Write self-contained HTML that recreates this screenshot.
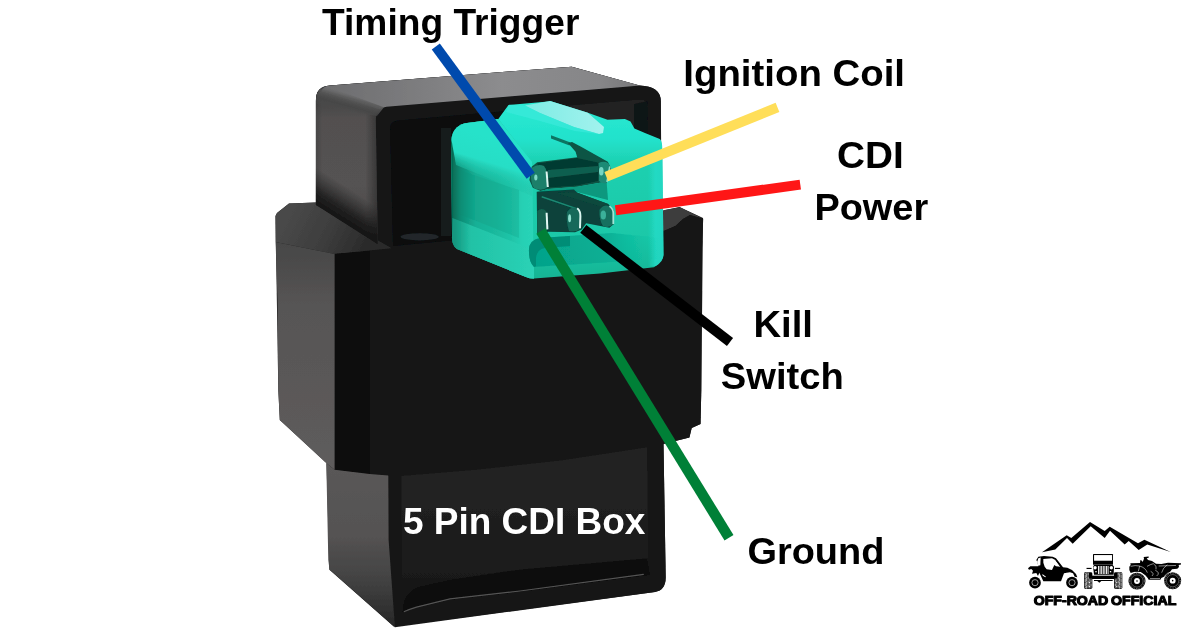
<!DOCTYPE html>
<html>
<head>
<meta charset="utf-8">
<title>5 Pin CDI Box</title>
<style>
html,body{margin:0;padding:0;background:#ffffff;}
body{width:1200px;height:630px;overflow:hidden;font-family:"Liberation Sans",sans-serif;}
svg{display:block;will-change:transform;}
text{font-family:"Liberation Sans",sans-serif;font-weight:bold;}
</style>
</head>
<body>
<svg width="1200" height="630" viewBox="0 0 1200 630">
<defs>
  <linearGradient id="gTop" gradientUnits="userSpaceOnUse" x1="320" y1="0" x2="650" y2="0">
    <stop offset="0" stop-color="#6c6c6e"/>
    <stop offset="0.25" stop-color="#7a7a7c"/>
    <stop offset="0.55" stop-color="#8c8c8e"/>
    <stop offset="0.85" stop-color="#868688"/>
    <stop offset="1" stop-color="#747476"/>
  </linearGradient>
  <linearGradient id="gRidge" gradientUnits="userSpaceOnUse" x1="350" y1="90" x2="344" y2="112">
    <stop offset="0" stop-color="#808082" stop-opacity="0"/>
    <stop offset="0.35" stop-color="#5a5a5a" stop-opacity="0.9"/>
    <stop offset="0.7" stop-color="#464646" stop-opacity="0.9"/>
    <stop offset="1" stop-color="#505050" stop-opacity="0"/>
  </linearGradient>
  <linearGradient id="gLeftFace" gradientUnits="userSpaceOnUse" x1="0" y1="95" x2="0" y2="245">
    <stop offset="0" stop-color="#424242"/>
    <stop offset="0.15" stop-color="#525050"/>
    <stop offset="0.6" stop-color="#545252"/>
    <stop offset="1" stop-color="#4a4848"/>
  </linearGradient>
  <linearGradient id="gLeftShadow" gradientUnits="userSpaceOnUse" x1="347" y1="224.7" x2="364" y2="198">
    <stop offset="0" stop-color="#121212" stop-opacity="0.97"/>
    <stop offset="0.35" stop-color="#161616" stop-opacity="0.8"/>
    <stop offset="1" stop-color="#202020" stop-opacity="0"/>
  </linearGradient>
  <linearGradient id="gLeftFaceH" gradientUnits="userSpaceOnUse" x1="316" y1="0" x2="378" y2="0">
    <stop offset="0" stop-color="#000" stop-opacity="0.12"/>
    <stop offset="0.1" stop-color="#000" stop-opacity="0"/>
    <stop offset="0.8" stop-color="#000" stop-opacity="0"/>
    <stop offset="1" stop-color="#000" stop-opacity="0.35"/>
  </linearGradient>
  <linearGradient id="gBandTop" gradientUnits="userSpaceOnUse" x1="290" y1="215" x2="360" y2="250">
    <stop offset="0" stop-color="#484848"/>
    <stop offset="0.5" stop-color="#3e3e3e"/>
    <stop offset="1" stop-color="#2c2c2c"/>
  </linearGradient>
  <linearGradient id="gBandSide" gradientUnits="userSpaceOnUse" x1="0" y1="240" x2="0" y2="470">
    <stop offset="0" stop-color="#464646"/>
    <stop offset="0.3" stop-color="#575555"/>
    <stop offset="1" stop-color="#5e5c5c"/>
  </linearGradient>
  <linearGradient id="gLowSide" gradientUnits="userSpaceOnUse" x1="0" y1="465" x2="0" y2="625">
    <stop offset="0" stop-color="#5a5858"/>
    <stop offset="0.45" stop-color="#545252"/>
    <stop offset="0.72" stop-color="#424242"/>
    <stop offset="1" stop-color="#282828"/>
  </linearGradient>
  <linearGradient id="gPane" gradientUnits="userSpaceOnUse" x1="0" y1="460" x2="0" y2="620">
    <stop offset="0" stop-color="#242424"/>
    <stop offset="0.6" stop-color="#1c1c1c"/>
    <stop offset="1" stop-color="#141414"/>
  </linearGradient>
  <filter id="fSoft" x="-2%" y="-2%" width="104%" height="104%"><feGaussianBlur stdDeviation="0.55"/></filter>
</defs>
<rect width="1200" height="630" fill="#ffffff"/>
<g id="photo" filter="url(#fSoft)">
<!-- ===== BASE SILHOUETTES (avoid seams) ===== -->
<g id="base">
  <path d="M275.5,216 L277,213 L289,203.5 L316,202.5 L316,101 Q315.5,86.2 330,85.4 L571.7,66.7 L639.4,85.4 Q660.8,86 660.8,101.3 L661,211 L679.4,207 L703,218 L701.3,390 L700.5,424 L691.7,428 L689.4,437.6 L663.5,444 L665.7,577.6 Q665.5,590.5 655,592 L393.7,626.5 L329.4,569.7 L326.5,463 L279.8,420 L278.3,390 Z" fill="#161616"/>
</g>
<!-- ===== BAND TOP FACE (behind housing) ===== -->
<g id="bandtop">
  <path d="M275.5,216 L277,213 L289,203.5 L316,202.5 L393,248 L334.6,254 L275.6,242 Z" fill="url(#gBandTop)"/>
  <path d="M661,212 L664.3,210 L680,207.2 L703.2,218.8 L690,215 L683,219 L675.4,226 L664.3,230.7 L661,231 Z" fill="#3e3e3e"/>
</g>
<!-- ===== UPPER HOUSING ===== -->
<g id="upper">
  <!-- silhouette / frame -->
  <path d="M315.9,101 Q315.5,86.2 330,85.4 L571.7,66.7 L639.4,85.4 Q660.8,86 660.8,101.3 L662,258 L393,258 L393,249 L315.9,205 Z" fill="#141516"/>
  <!-- left side face -->
  <path d="M315.9,101 Q315.6,93 321,91.5 L379.5,109.3 Q376,113 375.8,120 L377.8,244.4 L315.9,205 Z" fill="url(#gLeftFace)"/>
  <path d="M315.9,101 Q315.6,93 321,91.5 L379.5,109.3 Q376,113 375.8,120 L377.8,244.4 L315.9,205 Z" fill="url(#gLeftFaceH)"/>
  <path d="M315.9,101 Q315.6,93 321,91.5 L379.5,109.3 Q376,113 375.8,120 L377.8,244.4 L315.9,205 Z" fill="url(#gLeftShadow)"/>
  <!-- top face -->
  <path d="M321,91.5 Q323,86 330,85.4 L571.7,66.7 L640,85.6 L620,87.3 L386.5,106.8 Q382,107.3 379.5,109.3 Z" fill="url(#gTop)"/>
  <!-- rounded ridge between top and left face -->
  <path d="M316,99 Q316,88 327,86 L384,107.3 L377,116 L316,108 Z" fill="url(#gRidge)"/>
  <!-- opening interior -->
  <path d="M390,128 Q390,121.5 398,120.5 L640,99.5 Q647.5,99.5 647.8,106 L648.5,222 L393,246 Z" fill="#070d0f"/>
  <!-- interior top wall, lighter on right -->
  <path d="M540,108 L640,99.5 Q647.5,99.5 647.8,106 L648,150 L600,126 L540,116 Z" fill="#242424"/>
  <path d="M634,104 L647.8,101 L648.3,160 L634,140 Z" fill="#111213"/>
  <!-- interior lighter vertical band & floor reflection -->
  <rect x="441" y="128" width="10" height="108" fill="#171c1e"/>
  <ellipse cx="419.6" cy="236.8" rx="19" ry="3.6" fill="#23282a"/>
</g>
<!-- ===== RUBBER BAND ===== -->
<g id="band">
  <!-- front face -->
  <path d="M334.6,254 L393,249.5 L455,250 L662,250 L662,231 L664.3,230.7 L675.4,226 L683,219 L690,215 L703.2,218.8 L701.6,258 L701.3,390 L700.5,424 L691.7,428 L689.4,437.6 L663,444 L560,459.7 L475,469 L388,475.5 L369.5,474 L334.6,469.7 Z" fill="#151515"/>
  <path d="M334.6,254 L370,251.3 L370,474 L334.6,469.7 Z" fill="#0a0a0a"/>
  <!-- side face -->
  <path d="M275.6,242 L334.6,254 L334.6,469.7 L325,462 L279.8,420 L278.3,390 L277.5,300 Z" fill="url(#gBandSide)"/>
</g>
<!-- ===== LOWER HOUSING ===== -->
<g id="lower">
  <path d="M388,475.5 L475,469 L560,459.7 L663,444 L663.5,444 L665.7,577.6 Q665.5,590.5 655,592 L394.9,627.2 L388.6,600 Z" fill="#171717"/>
  <path d="M401.5,476 L475,470 L560,460.7 L647,447.5 L648,558 L520,569.7 L419,586.8 Q409,593 404,606 L402,606 Z" fill="url(#gPane)"/>
  <path d="M326.3,463 L334.6,469.7 L369.5,474 L388.3,475.5 L388.6,540 L394.9,627.2 L329.5,569.5 L328.3,560 Z" fill="url(#gLowSide)"/>
  <!-- glossy ridge -->
  <path d="M402.5,612.2 Q403,598 408.9,593.2 Q413,588.5 419,586.8 L450,579.8 L520,569.7 L647,558.6 L650,575 L520,592 L450,600 L416.5,607.5 Z" fill="#0d0d0d"/>
  <path d="M403.8,611.8 Q410,609 416.5,607.1 L450,598.9 L520,591 L643.8,574.4" fill="none" stroke="#555555" stroke-width="1.1"/>
</g>
<!-- ===== CONNECTOR ===== -->
<g id="conn">
  <defs>
    <linearGradient id="gSide" gradientUnits="userSpaceOnUse" x1="451" y1="0" x2="534" y2="0">
      <stop offset="0" stop-color="#056650"/>
      <stop offset="0.12" stop-color="#0c8e76"/>
      <stop offset="0.3" stop-color="#16b096"/>
      <stop offset="0.55" stop-color="#1aba9e"/>
      <stop offset="0.75" stop-color="#20c6aa"/>
      <stop offset="0.86" stop-color="#26d0b4"/>
      <stop offset="1" stop-color="#2ad4b8"/>
    </linearGradient>
    <linearGradient id="gSideTop" gradientUnits="userSpaceOnUse" x1="492" y1="138" x2="478" y2="184">
      <stop offset="0" stop-color="#26e2ca"/>
      <stop offset="0.5" stop-color="#28dec6"/>
      <stop offset="1" stop-color="#1ab498" stop-opacity="0"/>
    </linearGradient>
    <linearGradient id="gFront" gradientUnits="userSpaceOnUse" x1="0" y1="100" x2="0" y2="278">
      <stop offset="0" stop-color="#2aeAd2"/>
      <stop offset="0.22" stop-color="#22e2cc"/>
      <stop offset="0.36" stop-color="#1ed0b0"/>
      <stop offset="0.78" stop-color="#1ac8a8"/>
      <stop offset="1" stop-color="#14b494"/>
    </linearGradient>
    <linearGradient id="gTab" gradientUnits="userSpaceOnUse" x1="525" y1="0" x2="604" y2="0">
      <stop offset="0" stop-color="#7cecE4"/>
      <stop offset="0.4" stop-color="#8ceee8"/>
      <stop offset="1" stop-color="#a2f2ee"/>
    </linearGradient>
    <linearGradient id="gBotBand" gradientUnits="userSpaceOnUse" x1="455" y1="0" x2="534" y2="0">
      <stop offset="0" stop-color="#149880"/>
      <stop offset="0.2" stop-color="#22c2a6"/>
      <stop offset="1" stop-color="#2ad2b6"/>
    </linearGradient>
    <linearGradient id="gRecess" gradientUnits="userSpaceOnUse" x1="529" y1="0" x2="660" y2="0">
      <stop offset="0" stop-color="#04a088" stop-opacity="0.95"/>
      <stop offset="0.6" stop-color="#06ac92" stop-opacity="0.85"/>
      <stop offset="1" stop-color="#05c0a4" stop-opacity="0"/>
    </linearGradient>
    <linearGradient id="gRightStrip" gradientUnits="userSpaceOnUse" x1="648" y1="0" x2="663" y2="0">
      <stop offset="0" stop-color="#24dcc8" stop-opacity="0"/>
      <stop offset="0.5" stop-color="#24dcc8" stop-opacity="0.8"/>
      <stop offset="1" stop-color="#22d8c4" stop-opacity="0.9"/>
    </linearGradient>
  </defs>
  <!-- body -->
  <path d="M451,143 Q451.5,127 465,123.3 L498.3,118.9 L508.5,105 L551,101.3 L587.8,112.8 L607.5,119.8 L624.9,119 L630.5,121.4 L634.4,128.6 L645.6,133.3 L659.8,138.9 Q662.2,141 662.2,147 L663.5,255 Q663.2,261.5 654,267.3 L600,273.6 L534,278.5 Q530,278.6 526,277 L457,249 Q451.5,245.5 452,236 Z" fill="url(#gFront)"/>
  <!-- left side face -->
  <path d="M451,143 Q451.5,127 465,123.3 L498.3,118.9 L532,162 L534,278.5 Q530,278.6 526,277 L457,249 Q451.5,245.5 452,236 Z" fill="url(#gSide)"/>
  <!-- bright rounded top edge of side face -->
  <path d="M451.5,140 Q452,127 465,123.3 L498.3,118.9 L532,162 L532,196 L456,165 Z" fill="url(#gSideTop)"/>
  <!-- side panel darker -->
  <path d="M459,170 L519,190 L519,238 L459,214 Z" fill="#048a74" opacity="0.2"/>
  <!-- bottom-left rounded band lighter -->
  <path d="M452.5,218 L526,247 L534,250 L534,278.5 Q530,278.6 526,277 L457,249 Q451.5,245.5 452,236 Z" fill="url(#gBotBand)"/>
  <!-- right strip highlight -->
  <path d="M648,150 L662.3,150 L663.5,255 Q663.2,261.5 656,266 L648,267 Z" fill="url(#gRightStrip)"/>
  <!-- tab light top face -->
  <path d="M525,105.5 L550,101 L587.8,112.8 L604,127 L603,133 L599,134 L574,127 L540,113 Z" fill="url(#gTab)"/>
  <path d="M509,104.8 L525,105.5 L540,113 L574,127 L599,134 L575,131 L540,121 L506,112 Z" fill="#3aeadc" opacity="0.7"/>
  <!-- slit -->
  <path d="M551,135.3 L570.5,142.6 L569.5,145.6 L551,138.5 Z" fill="#0c7462"/>
  <!-- recess -->
  <path d="M529,252 Q528,240 540,238 L612,233 L660,238 L660,259 L534,267 Q529,262 529,252 Z" fill="url(#gRecess)"/>
  <path d="M529,252 Q528,240 540,238 L570,236 L570,246 L545,248 Q537,249 536,258 L536,266 L534,267 Q529,262 529,252 Z" fill="#038670" opacity="0.8"/>

  <!-- upper cavity -->
  <path d="M531.7,166.7 L537.2,162.2 L577.2,157.2 L575.6,151.7 L568,143 L572,142 L580.6,146.5 L607.8,161.7 L611.1,168.3 L606.7,183.3 L602.8,182.2 L577.2,186.7 L548.3,188.9 L540.6,191.1 L532.8,187.8 L529.4,180 Z" fill="#0a5445"/>
  <!-- between rows -->
  <path d="M540.6,191.1 L548.3,188.9 L577.2,186.7 L602.8,182.2 L606.7,183.3 L608,200 L577,192 L537,192 Z" fill="#07987e"/>
  <!-- lower cavity -->
  <path d="M536.7,191.7 L573.9,189.4 L577.2,192.8 L608.3,203.9 L613.9,210.6 L613.9,223.9 L609.4,227.8 L586.1,223.3 L581.7,229.4 L575,232.2 L548.3,231.7 L537.2,233.9 Z" fill="#07433a"/>

  <!-- upper blades -->
  <path d="M537,163.5 L577,158 L600,163 L598,181 L577,185.5 L548.5,187.5 Z" fill="#063a30"/>
  <path d="M548,170 L598,166 L598,172 L548,178 Z" fill="#0c5f4f"/>
  <!-- left upper blade end -->
  <path d="M531.7,168 Q538,163 544,166 Q548,170 548,187 Q541,192 534,188 Q529.5,182 531.7,168 Z" fill="#1d7f6b"/>
  <ellipse cx="535.8" cy="177.5" rx="1.6" ry="3" fill="#7fd8c6"/>
  <path d="M546.6,171.5 L547.8,187" stroke="#dcf6f0" stroke-width="2" fill="none"/>
  <!-- right upper blade end -->
  <path d="M598.5,163 Q604,160.5 608,163 Q611.5,167 610,172 L606.7,183 Q602,184 599,181 Z" fill="#1f8a75"/>
  <ellipse cx="601.3" cy="171.2" rx="2.3" ry="4.2" fill="#74d6c3"/>
  <path d="M609.8,166.5 L607,182" stroke="#8adccb" stroke-width="1.6" fill="none"/>

  <!-- lower blades -->
  <path d="M541.7,196.7 L577.2,208.9" stroke="#1c8a74" stroke-width="1.5" fill="none"/>
  <path d="M557,193 L577,192.5 L608,204 L600,206 Z" fill="#0a4a3d"/>
  <!-- left lower blade end -->
  <path d="M537.2,211 Q542,207 546,211 Q548,215 547.5,230 L537.2,233.5 Z" fill="#14614f"/>
  <path d="M546.6,212.8 L547.4,229.4" stroke="#e4f8f4" stroke-width="2" fill="none"/>
  <!-- middle lower blade end -->
  <path d="M567,212 Q572,205.5 578,208.5 Q581.5,213 581,228.5 Q575,233 569,231 Q566,222 567,212 Z" fill="#16695a"/>
  <ellipse cx="569.6" cy="218.3" rx="1.5" ry="4" fill="#8fe0cf"/>
  <path d="M577.2,208.3 Q580.6,211 580.4,216 L580,228.3" stroke="#dcf6f0" stroke-width="2" fill="none"/>
  <!-- right lower blade end -->
  <path d="M599.4,210 Q604,203.5 610,206.5 Q614,210 613.8,224 Q609,228.5 603,226 Q599,220 599.4,210 Z" fill="#18705f"/>
  <ellipse cx="603.3" cy="215" rx="2.7" ry="4.5" fill="#3bb09a"/>
  <path d="M609.4,206.1 Q613.3,209 613.3,213 L613.3,224" stroke="#9fe4d4" stroke-width="1.8" fill="none"/>
</g>
</g><!--photo-->
<!-- ===== LINES ===== -->
<g id="wires" stroke-linecap="butt" fill="none">
  <line x1="435.8" y1="46.5" x2="530.7" y2="175.8" stroke="#004aad" stroke-width="10"/>
  <line x1="606.3" y1="176.6" x2="777.5" y2="107.4" stroke="#ffde59" stroke-width="10"/>
  <line x1="615.6" y1="210.3" x2="800.3" y2="184.6" stroke="#ff1616" stroke-width="10"/>
  <line x1="583.3" y1="228.9" x2="730" y2="342" stroke="#000000" stroke-width="10"/>
  <line x1="540.8" y1="231" x2="729" y2="537.7" stroke="#008037" stroke-width="10.5"/>
</g>
<!-- ===== LABELS ===== -->
<g id="labels" fill="#000000" font-size="36.6">
  <text x="322" y="35" textLength="257.4" lengthAdjust="spacingAndGlyphs">Timing Trigger</text>
  <text x="683.3" y="85.7" textLength="221.7" lengthAdjust="spacingAndGlyphs">Ignition Coil</text>
  <text x="837.1" y="167.6" textLength="66.7" lengthAdjust="spacingAndGlyphs">CDI</text>
  <text x="814.4" y="220" textLength="113.8" lengthAdjust="spacingAndGlyphs">Power</text>
  <text x="753.4" y="337.2" textLength="59.6" lengthAdjust="spacingAndGlyphs">Kill</text>
  <text x="720.8" y="389.4" textLength="123" lengthAdjust="spacingAndGlyphs">Switch</text>
  <text x="747.4" y="563.8" textLength="137" lengthAdjust="spacingAndGlyphs">Ground</text>
  <text x="403" y="533.9" textLength="242.4" lengthAdjust="spacingAndGlyphs" fill="#ffffff" font-size="37.5">5 Pin CDI Box</text>
</g>
<!-- ===== LOGO ===== -->
<g id="logo" fill="#000000">
  <!-- mountain -->
  <path d="M1042,552.3 L1066.7,535.3 L1071.3,537.9 L1090,521.9 L1104.7,531 L1109.7,526.7 L1138,543.3 L1144.4,539.8 L1170.7,551.9 L1147.3,544.6 L1138.7,549.9 L1128.7,541 L1124.7,544.6 L1110,530.7 L1104.7,537.9 L1090.7,526.3 L1072.7,543.7 L1067,537.9 L1055.3,549.4 Z"/>
  <!-- UTV -->
  <g transform="translate(1024,550) scale(0.066667)">
    <path d="M60,275 L95,245 L215,245 L200,180 L185,150 L215,100 L300,90 L430,100 L480,125 L585,260 L650,268 L720,300 L780,360 L800,410 L760,400 L735,350 L690,335 L640,340 L600,350 L555,470 L290,470 L255,395 L230,340 L210,390 L185,345 L120,355 L135,310 L110,285 L75,295 Z"/>
    <path d="M290,135 L420,125 L470,150 L545,250 L480,245 L455,225 L420,300 L340,290 L310,250 L290,190 Z" fill="#fff"/>
    <path d="M215,122 L250,112 L245,228 L212,235 L196,180 Z" fill="#fff"/>
    <path d="M470,150 L500,160 L565,250 L545,250 Z" fill="#000"/>
    <path d="M275,360 L330,400 L320,410 L280,385 Z" fill="#fff"/>
    <circle cx="165" cy="490" r="88"/>
    <circle cx="720" cy="490" r="88"/>
    <circle cx="165" cy="490" r="46" fill="none" stroke="#fff" stroke-width="9"/>
    <circle cx="720" cy="490" r="46" fill="none" stroke="#fff" stroke-width="9"/>
  </g>
  <!-- JEEP -->
  <g transform="translate(1078,550) scale(0.066667)">
    <rect x="225" y="60" width="300" height="160" rx="8"/>
    <rect x="241" y="76" width="270" height="85" fill="#fff"/>
    <path d="M240,225 L520,225 L540,250 L535,370 L240,370 L225,250 Z"/>
    <circle cx="256" cy="266" r="25" fill="#fff"/>
    <circle cx="500" cy="266" r="25" fill="#fff"/>
    <g fill="#fff">
      <rect x="300" y="240" width="14" height="120"/>
      <rect x="324" y="240" width="14" height="120"/>
      <rect x="348" y="240" width="14" height="120"/>
      <rect x="372" y="240" width="14" height="120"/>
      <rect x="396" y="240" width="14" height="120"/>
      <rect x="420" y="240" width="14" height="120"/>
      <rect x="444" y="240" width="14" height="120"/>
      <rect x="260" y="315" width="20" height="20"/>
      <rect x="478" y="315" width="20" height="20"/>
    </g>
    <rect x="128" y="268" width="76" height="17"/>
    <rect x="554" y="268" width="78" height="17"/>
    <rect x="165" y="385" width="420" height="50"/>
    <rect x="240" y="450" width="280" height="15"/>
    <path d="M290,465 L350,465 L320,492 Z"/>
    <rect x="90" y="335" width="125" height="250" rx="22"/>
    <rect x="540" y="335" width="125" height="250" rx="22"/>
    <g stroke="#fff" stroke-width="16" stroke-dasharray="13 7" fill="none">
      <path d="M108,348 L108,575"/><path d="M130,342 L130,580" stroke-dashoffset="9"/><path d="M152,342 L152,580"/><path d="M174,430 L174,580" stroke-dashoffset="9"/><path d="M196,430 L196,575"/>
      <path d="M559,430 L559,575"/><path d="M581,430 L581,580" stroke-dashoffset="9"/><path d="M603,342 L603,580"/><path d="M625,342 L625,580" stroke-dashoffset="9"/><path d="M647,348 L647,575"/>
    </g>
  </g>
  <!-- ATV -->
  <g transform="translate(1124,550) scale(0.066667)">
    <path d="M95,200 L240,195 L245,150 L270,160 L280,180 L300,130 L295,105 L370,98 L370,115 L340,125 L360,150 L420,165 L480,205 L560,210 L660,192 L855,200 L855,218 L820,225 L825,255 L800,280 L720,290 L690,330 L600,400 L560,420 L545,445 L370,445 L355,420 L320,380 L250,330 L150,330 L100,345 L80,300 L80,250 L100,225 Z"/>
    <circle cx="195" cy="465" r="128"/>
    <circle cx="730" cy="460" r="128"/>
    <circle cx="195" cy="465" r="114" fill="none" stroke="#fff" stroke-width="9" stroke-dasharray="11 15"/>
    <circle cx="195" cy="465" r="92" fill="none" stroke="#fff" stroke-width="5"/>
    <circle cx="730" cy="460" r="114" fill="none" stroke="#fff" stroke-width="9" stroke-dasharray="11 15"/>
    <circle cx="730" cy="460" r="92" fill="none" stroke="#fff" stroke-width="5"/>
    <circle cx="195" cy="465" r="44" fill="#fff"/>
    <circle cx="730" cy="460" r="44" fill="#fff"/>
    <circle cx="195" cy="465" r="12"/>
    <circle cx="730" cy="460" r="12"/>
    <g stroke="#fff" stroke-width="8" fill="none">
      <path d="M100,245 Q170,225 230,240 Q320,260 350,340"/>
      <path d="M235,240 L215,320"/>
      <path d="M150,335 Q250,320 320,400"/>
      <path d="M345,245 Q400,215 440,205 Q500,240 480,290"/>
      <path d="M400,320 Q460,350 420,390"/>
      <path d="M470,305 Q550,340 490,390"/>
      <path d="M390,428 L540,428"/>
      <path d="M520,240 L780,232"/>
      <path d="M650,220 Q580,270 565,340"/>
      <path d="M610,390 Q640,340 700,330"/>
    </g>
  </g>
  <text x="1033.7" y="605.3" font-size="13.4" textLength="74.6" lengthAdjust="spacingAndGlyphs" stroke="#000" stroke-width="1.1" stroke-linejoin="round">OFF-ROAD</text>
  <text x="1111" y="605.3" font-size="13.4" textLength="65.3" lengthAdjust="spacingAndGlyphs" stroke="#000" stroke-width="1.1" stroke-linejoin="round">OFFICIAL</text>
</g>
</svg>
</body>
</html>
